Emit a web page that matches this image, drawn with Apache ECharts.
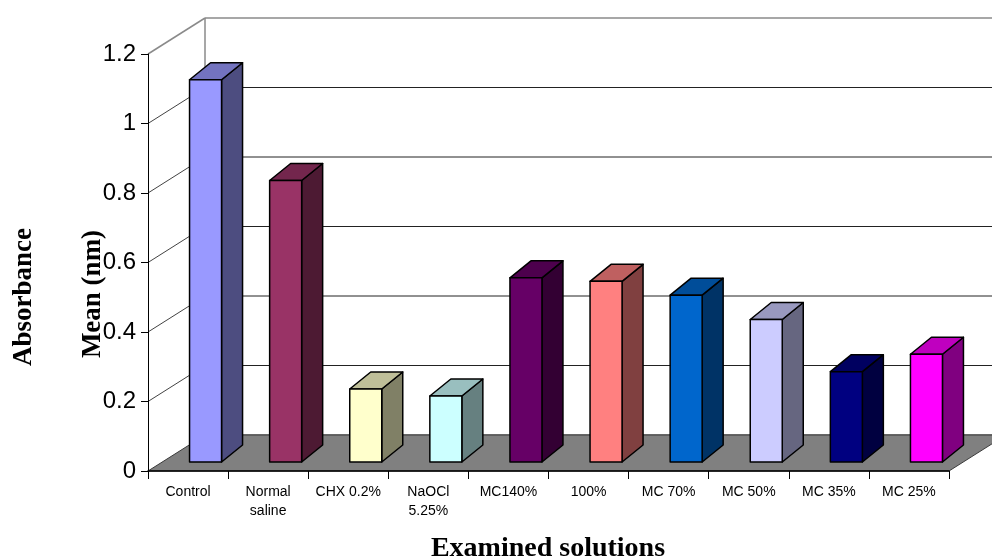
<!DOCTYPE html>
<html>
<head>
<meta charset="utf-8">
<script src="https://cdn.jsdelivr.net/npm/echarts@6/dist/echarts.min.js"></script>
<style>
  html, body { margin: 0; padding: 0; background: #fff; }
  #chart { width: 992px; height: 557px; }
</style>
</head>
<body>
<div id="chart"></div>
<script>
// categories and mean absorbance
var categories = ['Control', 'Normal\nsaline', 'CHX 0.2%', 'NaOCl\n5.25%', 'MC140%', '100%', 'MC 70%', 'MC 50%', 'MC 35%', 'MC 25%'];
var means = [1.10, 0.81, 0.21, 0.19, 0.53, 0.52, 0.48, 0.41, 0.26, 0.31];
var yTicks = [0, 0.2, 0.4, 0.6, 0.8, 1, 1.2];

// excel-ish palette, front faces
var barColors = ['#9999FF', '#993366', '#FFFFCC', '#CCFFFF', '#660066', '#FF8080', '#0066CC', '#CCCCFF', '#000080', '#FF00FF'];

// 3d look (pixels)
var WALL_DX = 57, WALL_DY = -36;   // depth of the floor / back wall
var BAR_SHIFT_X = 17.5, BAR_SHIFT_Y = -9;  // bar front plane
var BAR_HALF = 16;
var BAR_DX = 21, BAR_DY = -17;     // bar depth

function shade(hex, k) {
  var n = parseInt(hex.slice(1), 16);
  var r = Math.round(((n >> 16) & 255) * k);
  var g = Math.round(((n >> 8) & 255) * k);
  var b = Math.round((n & 255) * k);
  return 'rgb(' + r + ',' + g + ',' + b + ')';
}

function renderWalls(params, api) {
  var cs = params.coordSys;
  var left = cs.x, right = cs.x + cs.width;
  var kids = [];
  // back wall grid lines
  yTicks.forEach(function (t, k) {
    var y = api.coord([0, t])[1];
    var top = k === yTicks.length - 1;
    kids.push({
      type: 'line',
      shape: { x1: left + WALL_DX, y1: y + WALL_DY, x2: right + WALL_DX + 20, y2: y + WALL_DY },
      style: { stroke: top ? '#8a8a8a' : '#222', lineWidth: top ? 1.5 : 1 }
    });
    // side wall lines
    if (t > 0) {
      kids.push({
        type: 'line',
        shape: { x1: left, y1: y, x2: left + WALL_DX, y2: y + WALL_DY },
        style: { stroke: top ? '#8a8a8a' : '#111', lineWidth: top ? 1.5 : 0.8 }
      });
    }
  });
  var y0 = api.coord([0, 0])[1];
  var y1 = api.coord([0, yTicks[yTicks.length - 1]])[1];
  // back wall left edge
  kids.push({
    type: 'line',
    shape: { x1: left + WALL_DX, y1: y1 + WALL_DY, x2: left + WALL_DX, y2: y0 + WALL_DY },
    style: { stroke: '#8a8a8a', lineWidth: 1.5 }
  });
  // floor
  kids.push({
    type: 'polygon',
    shape: { points: [[left, y0], [right, y0], [right + WALL_DX, y0 + WALL_DY], [left + WALL_DX, y0 + WALL_DY]] },
    style: { fill: '#808080', stroke: '#3a3a3a', lineWidth: 1 }
  });
  return { type: 'group', children: kids };
}

function renderBar(params, api) {
  var i = api.value(0), v = api.value(1);
  var base = api.coord([i, 0]);
  var topPt = api.coord([i, v]);
  var cx = base[0] + BAR_SHIFT_X;
  var yb = base[1] + BAR_SHIFT_Y;
  var yt = topPt[1] + BAR_SHIFT_Y;
  var x0 = cx - BAR_HALF, x1 = cx + BAR_HALF;
  var col = barColors[params.dataIndex];
  var line = { stroke: '#000', lineWidth: 1.5, lineJoin: 'round' };
  return {
    type: 'group',
    children: [
      {
        type: 'polygon',
        shape: { points: [[x1, yb], [x1 + BAR_DX, yb + BAR_DY], [x1 + BAR_DX, yt + BAR_DY], [x1, yt]] },
        style: Object.assign({ fill: shade(col, 0.5) }, line)
      },
      {
        type: 'polygon',
        shape: { points: [[x0, yt], [x1, yt], [x1 + BAR_DX, yt + BAR_DY], [x0 + BAR_DX, yt + BAR_DY]] },
        style: Object.assign({ fill: shade(col, 0.75) }, line)
      },
      {
        type: 'rect',
        shape: { x: x0, y: yt, width: x1 - x0, height: yb - yt },
        style: Object.assign({ fill: col }, line)
      }
    ]
  };
}

var chart = echarts.init(document.getElementById('chart'), null, { renderer: 'canvas' });

chart.setOption({
  animation: false,
  backgroundColor: '#fff',
  grid: { left: 148, right: 43, top: 54, bottom: 86 },
  xAxis: {
    type: 'category',
    data: categories,
    z: 10,
    axisLine: { lineStyle: { color: '#000', width: 1.5 } },
    axisTick: { show: true, length: 8, lineStyle: { color: '#000' } },
    axisLabel: {
      color: '#000', fontFamily: 'Liberation Sans', fontSize: 14,
      lineHeight: 19, margin: 12, interval: 0
    },
    splitLine: { show: false }
  },
  yAxis: {
    type: 'value',
    min: 0, max: 1.2, interval: 0.2,
    z: 10,
    axisLine: { show: true, lineStyle: { color: '#000', width: 1 } },
    axisTick: { show: true, length: 7, lineStyle: { color: '#000' } },
    axisLabel: { color: '#000', fontFamily: 'Liberation Sans', fontSize: 24, margin: 12 },
    splitLine: { show: false }
  },
  graphic: [
    {
      type: 'text', x: 24, y: 297, rotation: Math.PI / 2,
      style: { text: 'Absorbance', font: 'bold 27px "Liberation Serif"', fill: '#000', align: 'center', verticalAlign: 'middle' }
    },
    {
      type: 'text', x: 93, y: 294, rotation: Math.PI / 2,
      style: { text: 'Mean (nm)', font: 'bold 27px "Liberation Serif"', fill: '#000', align: 'center', verticalAlign: 'middle' }
    },
    {
      type: 'text', x: 548, y: 549,
      style: { text: 'Examined solutions', font: 'bold 28px "Liberation Serif"', fill: '#000', align: 'center', verticalAlign: 'middle' }
    }
  ],
  series: [
    {
      type: 'custom',
      z: 1,
      silent: true,
      renderItem: renderWalls,
      data: [[0, 0]]
    },
    {
      type: 'custom',
      z: 3,
      renderItem: renderBar,
      encode: { x: 0, y: 1 },
      data: means.map(function (m, i) { return [i, m]; })
    }
  ]
});
</script>
</body>
</html>
